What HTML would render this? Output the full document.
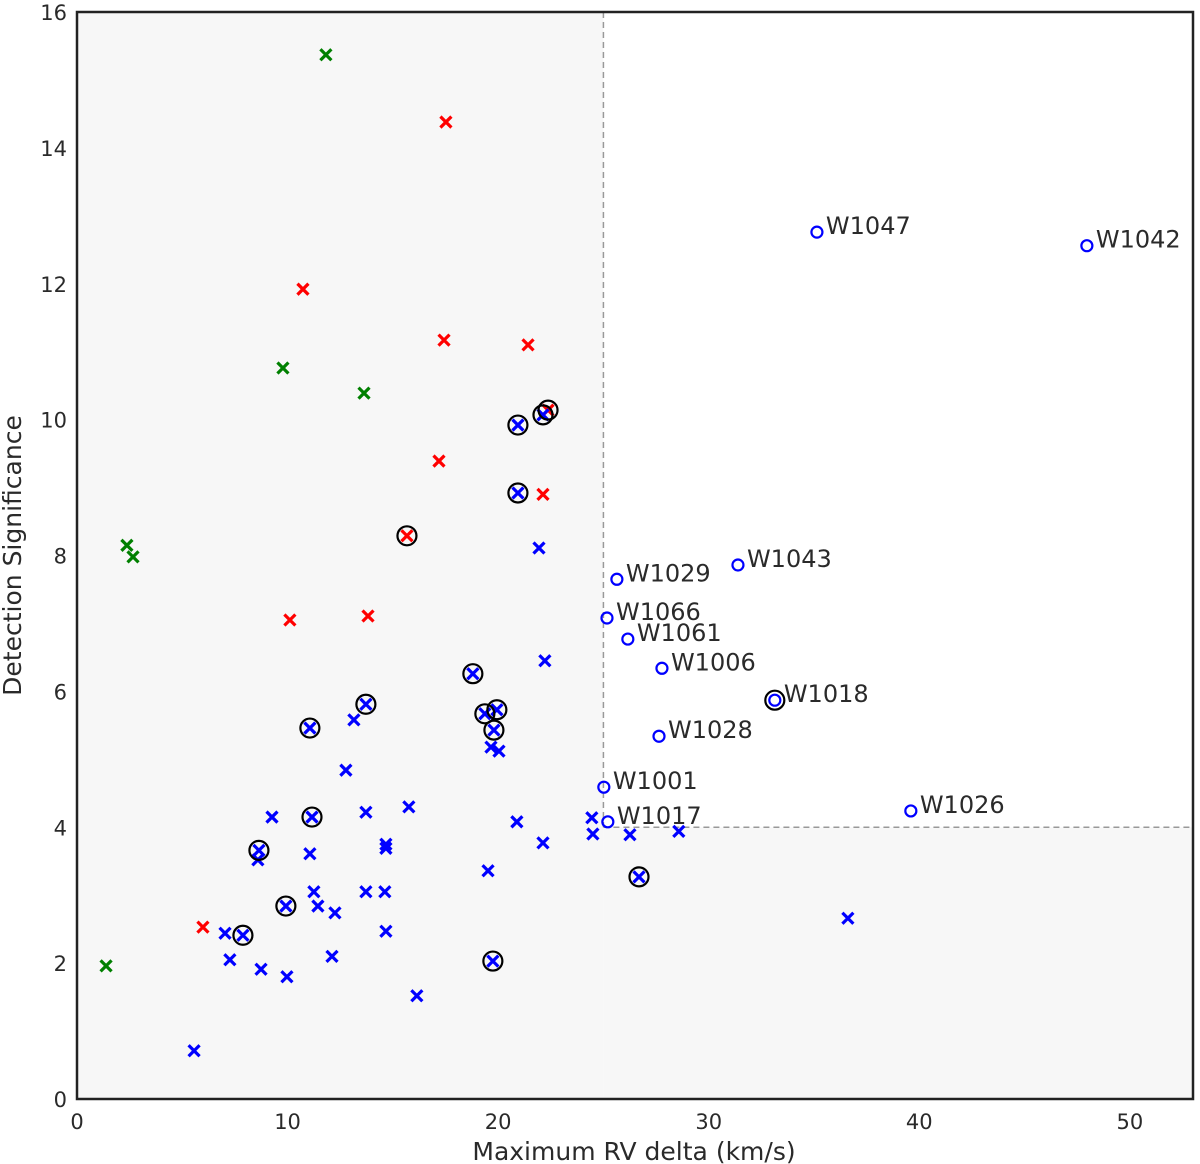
<!DOCTYPE html>
<html><head><meta charset="utf-8"><style>
body{margin:0;background:#fff}
svg{display:block;font-family:"DejaVu Sans","Liberation Sans",sans-serif}
</style></head><body>
<svg id="chart" width="1200" height="1164">
<g id="plot"></g>
</svg>
<script>
const greenX=[11.82,9.78,13.63,2.37,2.66,1.38];
const greenY=[15.37,10.76,10.39,8.15,7.98,1.96];
const redX=[17.52,10.73,17.43,21.42,22.37,17.19,22.13,15.67,10.11,13.82,5.98];
const redY=[14.38,11.92,11.17,11.10,10.14,9.39,8.90,8.29,7.05,7.11,2.53];
const blueX=[20.94,22.13,20.94,21.94,22.22,18.80,13.72,11.06,13.15,19.37,19.94,19.80,19.66,20.04,12.77,9.26,11.16,13.72,15.76,20.89,24.45,24.50,26.26,28.58,22.13,14.67,14.67,8.64,8.59,11.06,19.52,26.69,11.25,13.72,14.62,11.44,9.92,12.25,7.03,7.88,14.67,36.61,12.11,7.26,19.75,8.74,9.97,16.14,5.56];
const blueY=[9.92,10.07,8.92,8.11,6.45,6.26,5.81,5.46,5.58,5.67,5.73,5.43,5.18,5.12,4.84,4.15,4.15,4.22,4.30,4.08,4.14,3.90,3.89,3.94,3.77,3.75,3.69,3.66,3.52,3.61,3.36,3.27,3.05,3.05,3.05,2.84,2.84,2.74,2.44,2.41,2.47,2.66,2.10,2.05,2.03,1.91,1.80,1.52,0.71];
const ringX=[20.94,22.37,22.13,20.94,15.67,18.80,13.72,11.06,19.37,19.94,19.80,11.16,8.64,9.92,7.88,19.75,26.69,33.14];
const ringY=[9.92,10.14,10.07,8.92,8.29,6.26,5.81,5.46,5.67,5.73,5.43,4.15,3.66,2.84,2.41,2.03,3.27,5.87];
const labNames=["W1047","W1042","W1043","W1029","W1066","W1061","W1006","W1018","W1028","W1001","W1017","W1026"];
const labX=[35.14,47.96,31.39,25.64,25.17,26.16,27.78,33.14,27.64,25.02,25.21,39.60];
const labY=[12.76,12.56,7.86,7.65,7.08,6.77,6.34,5.87,5.34,4.59,4.08,4.24];
const xTicks=[0,10,20,30,40,50];
const yTicks=[0,2,4,6,8,10,12,14,16];
const X0=77,X1=1193,Y0=1099,Y1=12,XMAX=53,YMAX=16;
const sx=v=>X0+v*(X1-X0)/XMAX, sy=v=>Y0-v*(Y0-Y1)/YMAX;
const NS="http://www.w3.org/2000/svg", g=document.getElementById('plot');
function mk(t,a,p){const e=document.createElementNS(NS,t);for(const k in a)e.setAttribute(k,a[k]);(p||g).appendChild(e);return e;}
let e;
e=mk('rect',{x:X0,y:Y1,width:sx(25)-X0,height:Y0-Y1,fill:'#f7f7f7'});


e=mk('rect',{x:sx(25),y:sy(4),width:X1-sx(25),height:Y0-sy(4),fill:'#f7f7f7'});


e=mk('line',{x1:sx(25),y1:Y1,x2:sx(25),y2:sy(4),stroke:'#999','stroke-width':1.5,'stroke-dasharray':'6,4'});


e=mk('line',{x1:sx(25),y1:sy(4),x2:X1,y2:sy(4),stroke:'#999','stroke-width':1.5,'stroke-dasharray':'6,4'});


function cross(x,y,c,name){const s=5.5;const gg=mk('g',{});


mk('path',{d:`M${sx(x)-s},${sy(y)-s}L${sx(x)+s},${sy(y)+s}M${sx(x)-s},${sy(y)+s}L${sx(x)+s},${sy(y)-s}`,stroke:c,'stroke-width':3.2,fill:'none'},gg);}
greenX.forEach((v,i)=>cross(v,greenY[i],'#008000','green-point'));
redX.forEach((v,i)=>cross(v,redY[i],'#ff0000','red-point'));
blueX.forEach((v,i)=>cross(v,blueY[i],'#0000ff','blue-point'));
labX.forEach((v,i)=>{
e=mk('circle',{cx:sx(v),cy:sy(labY[i]),r:5.5,fill:'none',stroke:'#0000ff','stroke-width':2.2});


e=mk('text',{x:sx(v)+9,y:sy(labY[i])+2,'font-size':24,fill:'#2a2a2a'});
e.textContent=labNames[i];


});
ringX.forEach((v,i)=>{
e=mk('circle',{cx:sx(v),cy:sy(ringY[i]),r:9.5,fill:'none',stroke:'#000','stroke-width':2.2});


});
e=mk('rect',{x:X0,y:Y1,width:X1-X0,height:Y0-Y1,fill:'none',stroke:'#222','stroke-width':2.5});


xTicks.forEach(t=>{
e=mk('text',{x:sx(t),y:Y0+30,'font-size':21,fill:'#2a2a2a','text-anchor':'middle'});
e.textContent=t;


});
yTicks.forEach(t=>{
e=mk('text',{x:X0-10,y:sy(t)+8,'font-size':21,fill:'#2a2a2a','text-anchor':'end'});
e.textContent=t;


});
e=mk('text',{x:634,y:1160,'font-size':25,fill:'#2a2a2a','text-anchor':'middle'});
e.textContent='Maximum RV delta (km/s)';


e=mk('text',{x:0,y:0,'font-size':25,fill:'#2a2a2a','text-anchor':'middle',transform:`translate(21,${(Y0+Y1)/2}) rotate(-90)`});
e.textContent='Detection Significance';


</script>
</body></html>
